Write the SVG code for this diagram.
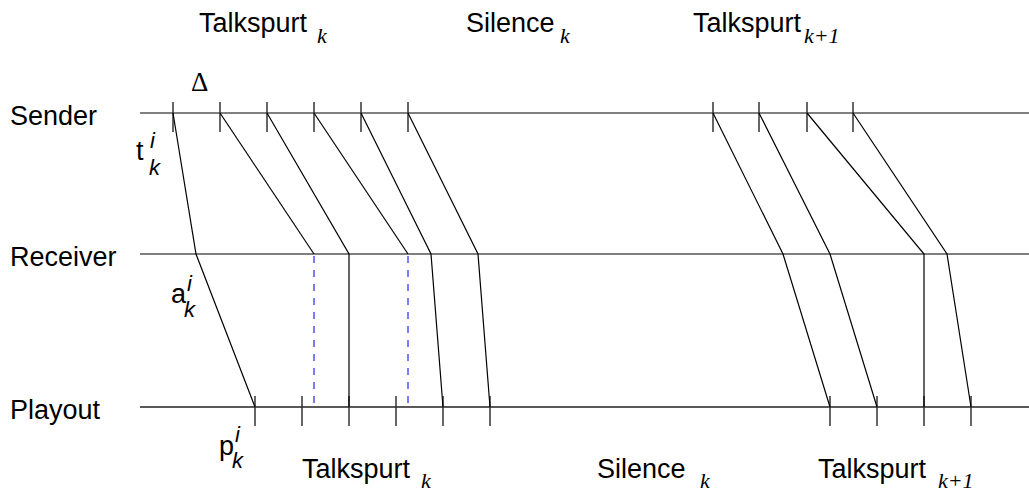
<svg xmlns="http://www.w3.org/2000/svg" width="1029" height="492" viewBox="0 0 1029 492">
<style>
.lbl{font-family:"Liberation Sans",Arial,sans-serif;font-size:27px;fill:#000}
.sub{font-family:"Liberation Serif","Times New Roman",serif;font-style:italic;font-size:22px;fill:#000}
.var{font-family:"Liberation Sans",Arial,sans-serif;font-size:27px;fill:#000}
.vs{font-family:"Liberation Sans",Arial,sans-serif;font-style:italic;font-size:22px;fill:#000}
.axis{stroke:#555;stroke-width:1.5;fill:none}
.tick{stroke:#333;stroke-width:1.5}
.pkt{stroke:#000;stroke-width:1.2;fill:none}
.dash{stroke:#5050ff;stroke-width:1.5;stroke-dasharray:7,7;fill:none}
</style>
<rect width="1029" height="492" fill="#fff"/>
<g id="sender">
<line class="axis" x1="140" y1="113" x2="1029" y2="113"/>
<text class="lbl" x="10" y="125">Sender</text>
<g class="tick">
<line x1="173" y1="102" x2="173" y2="132"/><line x1="220" y1="102" x2="220" y2="132"/><line x1="267" y1="102" x2="267" y2="132"/><line x1="314" y1="102" x2="314" y2="132"/><line x1="361" y1="102" x2="361" y2="132"/><line x1="408" y1="102" x2="408" y2="132"/>
<line x1="713" y1="102" x2="713" y2="132"/><line x1="759" y1="102" x2="759" y2="132"/><line x1="807" y1="102" x2="807" y2="132"/><line x1="853" y1="102" x2="853" y2="132"/>
</g>
</g>
<g id="receiver">
<line class="axis" x1="140" y1="254" x2="1029" y2="254"/>
<text class="lbl" x="10" y="266">Receiver</text>
</g>
<g id="playout">
<line class="axis" x1="140" y1="407" x2="1029" y2="407" style="stroke:#222"/>
<text class="lbl" x="10" y="419">Playout</text>
<g class="tick">
<line x1="255" y1="396" x2="255" y2="426"/><line x1="302" y1="396" x2="302" y2="426"/><line x1="349" y1="396" x2="349" y2="426"/><line x1="396" y1="396" x2="396" y2="426"/><line x1="443" y1="396" x2="443" y2="426"/><line x1="490" y1="396" x2="490" y2="426"/>
<line x1="830" y1="396" x2="830" y2="426"/><line x1="877" y1="396" x2="877" y2="426"/><line x1="924" y1="396" x2="924" y2="426"/><line x1="971" y1="396" x2="971" y2="426"/>
</g>
</g>
<g id="connectors">
<polyline class="pkt" points="173,113 196,254 255,407"/>
<polyline class="pkt" points="220,113 314,254"/>
<line class="dash" x1="314" y1="256" x2="314" y2="407"/>
<polyline class="pkt" points="267,113 349,254 349,407"/>
<polyline class="pkt" points="314,113 408,254"/>
<line class="dash" x1="408" y1="256" x2="408" y2="407"/>
<polyline class="pkt" points="361,113 431,254 443,407"/>
<polyline class="pkt" points="408,113 478,254 490,407"/>
<polyline class="pkt" points="713,113 783,254 830,407"/>
<polyline class="pkt" points="759,113 830,254 877,407"/>
<polyline class="pkt" points="807,113 924,254 924,407"/>
<polyline class="pkt" points="853,113 947,254 971,407"/>
</g>
<g id="labels">
<text class="lbl" x="199" y="32">Talkspurt</text><text class="sub" x="317" y="43">k</text>
<text class="lbl" x="466" y="32">Silence</text><text class="sub" x="560" y="43">k</text>
<text class="lbl" x="693" y="32">Talkspurt</text><text class="sub" x="804" y="43">k+1</text>
<text x="191" y="91" style="font-family:'Liberation Serif','Times New Roman',serif;font-size:27px">Δ</text>
<text class="var" x="136" y="160">t</text><text class="vs" x="150" y="148">i</text><text class="vs" x="149" y="175">k</text>
<text class="var" x="171" y="303">a</text><text class="vs" x="187" y="291">i</text><text class="vs" x="184" y="317">k</text>
<text class="var" x="219" y="455">p</text><text class="vs" x="235" y="442">i</text><text class="vs" x="232" y="468">k</text>
<text class="lbl" x="302" y="478">Talkspurt</text><text class="sub" x="421" y="488">k</text>
<text class="lbl" x="597" y="478">Silence</text><text class="sub" x="700" y="488">k</text>
<text class="lbl" x="818" y="478">Talkspurt</text><text class="sub" x="938" y="488">k+1</text>
</g>
</svg>
